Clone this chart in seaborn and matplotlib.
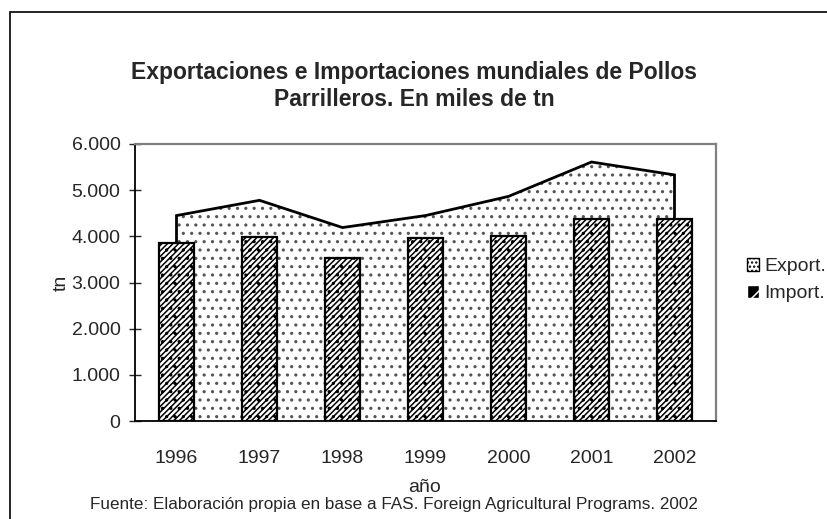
import numpy as np
import matplotlib
matplotlib.use("Agg")
import matplotlib.pyplot as plt
import seaborn as sns
from matplotlib.patches import Patch, Rectangle
from matplotlib.ticker import FuncFormatter

# Data (miles de tn)
years = ["1996", "1997", "1998", "1999", "2000", "2001", "2002"]
exports = [4450, 4780, 4190, 4450, 4865, 5610, 5330]
imports = [3860, 3990, 3540, 3970, 4010, 4380, 4370]

sns.set_style("white")
plt.rcParams['font.family'] = ['Liberation Sans', 'DejaVu Sans']
plt.rcParams['hatch.linewidth'] = 1.1

fig = plt.figure(figsize=(8.28, 5.19), dpi=100)
ax = fig.add_axes([135 / 828, 1 - 421 / 519, 581 / 828, 277 / 519])

# Bars for imports
sns.barplot(x=years, y=imports, color="white", edgecolor="black",
            linewidth=1.6, width=0.41, ax=ax, zorder=3)
for p in ax.patches:
    p.set_hatch("//////..")
    p.set_facecolor("white")

# Area for exports
xs = np.arange(len(years))
ax.fill_between(xs, exports, 0, facecolor="white", edgecolor="#555555",
                hatch="..", linewidth=0, zorder=1)
ax.plot(np.r_[xs[0], xs, xs[-1]], np.r_[0, exports, 0], color="black",
        lw=2, zorder=2, solid_joinstyle="miter")

ax.set_xlim(-0.5, len(years) - 0.5)
ax.set_ylim(0, 6000)
ax.set_yticks(np.arange(0, 6001, 1000))
ax.yaxis.set_major_formatter(FuncFormatter(lambda v, _: f"{int(v):,}".replace(",", ".")))
ax.set_xticks(np.arange(-0.5, len(years)), minor=True)
ax.tick_params(axis="x", which="major", length=0, pad=21, labelsize=14)
ax.tick_params(axis="x", which="minor", length=8, direction="inout", width=1)
ax.tick_params(axis="y", length=9, direction="inout", width=1, pad=6, labelsize=14, left=True)

for s in ["left", "bottom"]:
    ax.spines[s].set_color("black")
    ax.spines[s].set_linewidth(1.3)
for s in ["top", "right"]:
    ax.spines[s].set_visible(True)
    ax.spines[s].set_color("#808080")
    ax.spines[s].set_linewidth(1.6)

ax.set_xlabel("")
ax.set_ylabel("tn", fontsize=14)
ax.yaxis.set_label_coords(-0.112, 0.5)

fig.text(425 / 828, 1 - 488 / 519, "año", ha="center", va="center", fontsize=14)
fig.text(90 / 828, 1 - 505 / 519,
         "Fuente: Elaboración propia en base a FAS. Foreign Agricultural Programs. 2002",
         ha="left", va="center", fontsize=12.3)
fig.text(414 / 828, 1 - 86 / 519,
         "Exportaciones e Importaciones mundiales de Pollos\nParrilleros. En miles de tn",
         ha="center", va="center", fontsize=16.5, fontweight="bold", linespacing=1.25)

handles = [Patch(facecolor="white", edgecolor="black", hatch="....", label="Export."),
           Patch(facecolor="black", edgecolor="white", hatch="//", label="Import.")]
fig.legend(handles=handles, loc="center left", bbox_to_anchor=(733 / 828, 1 - 280 / 519),
           frameon=False, fontsize=14, handlelength=0.65, handleheight=0.65,
           handletextpad=0.25, labelspacing=0.5, borderpad=0.2)

fig.patches.append(Rectangle((10 / 828, -0.1), 1.0, 1 - 12 / 519 + 0.1,
                             transform=fig.transFigure, fill=False,
                             edgecolor="black", linewidth=1.2))

fig.savefig("out.png", dpi=100)
